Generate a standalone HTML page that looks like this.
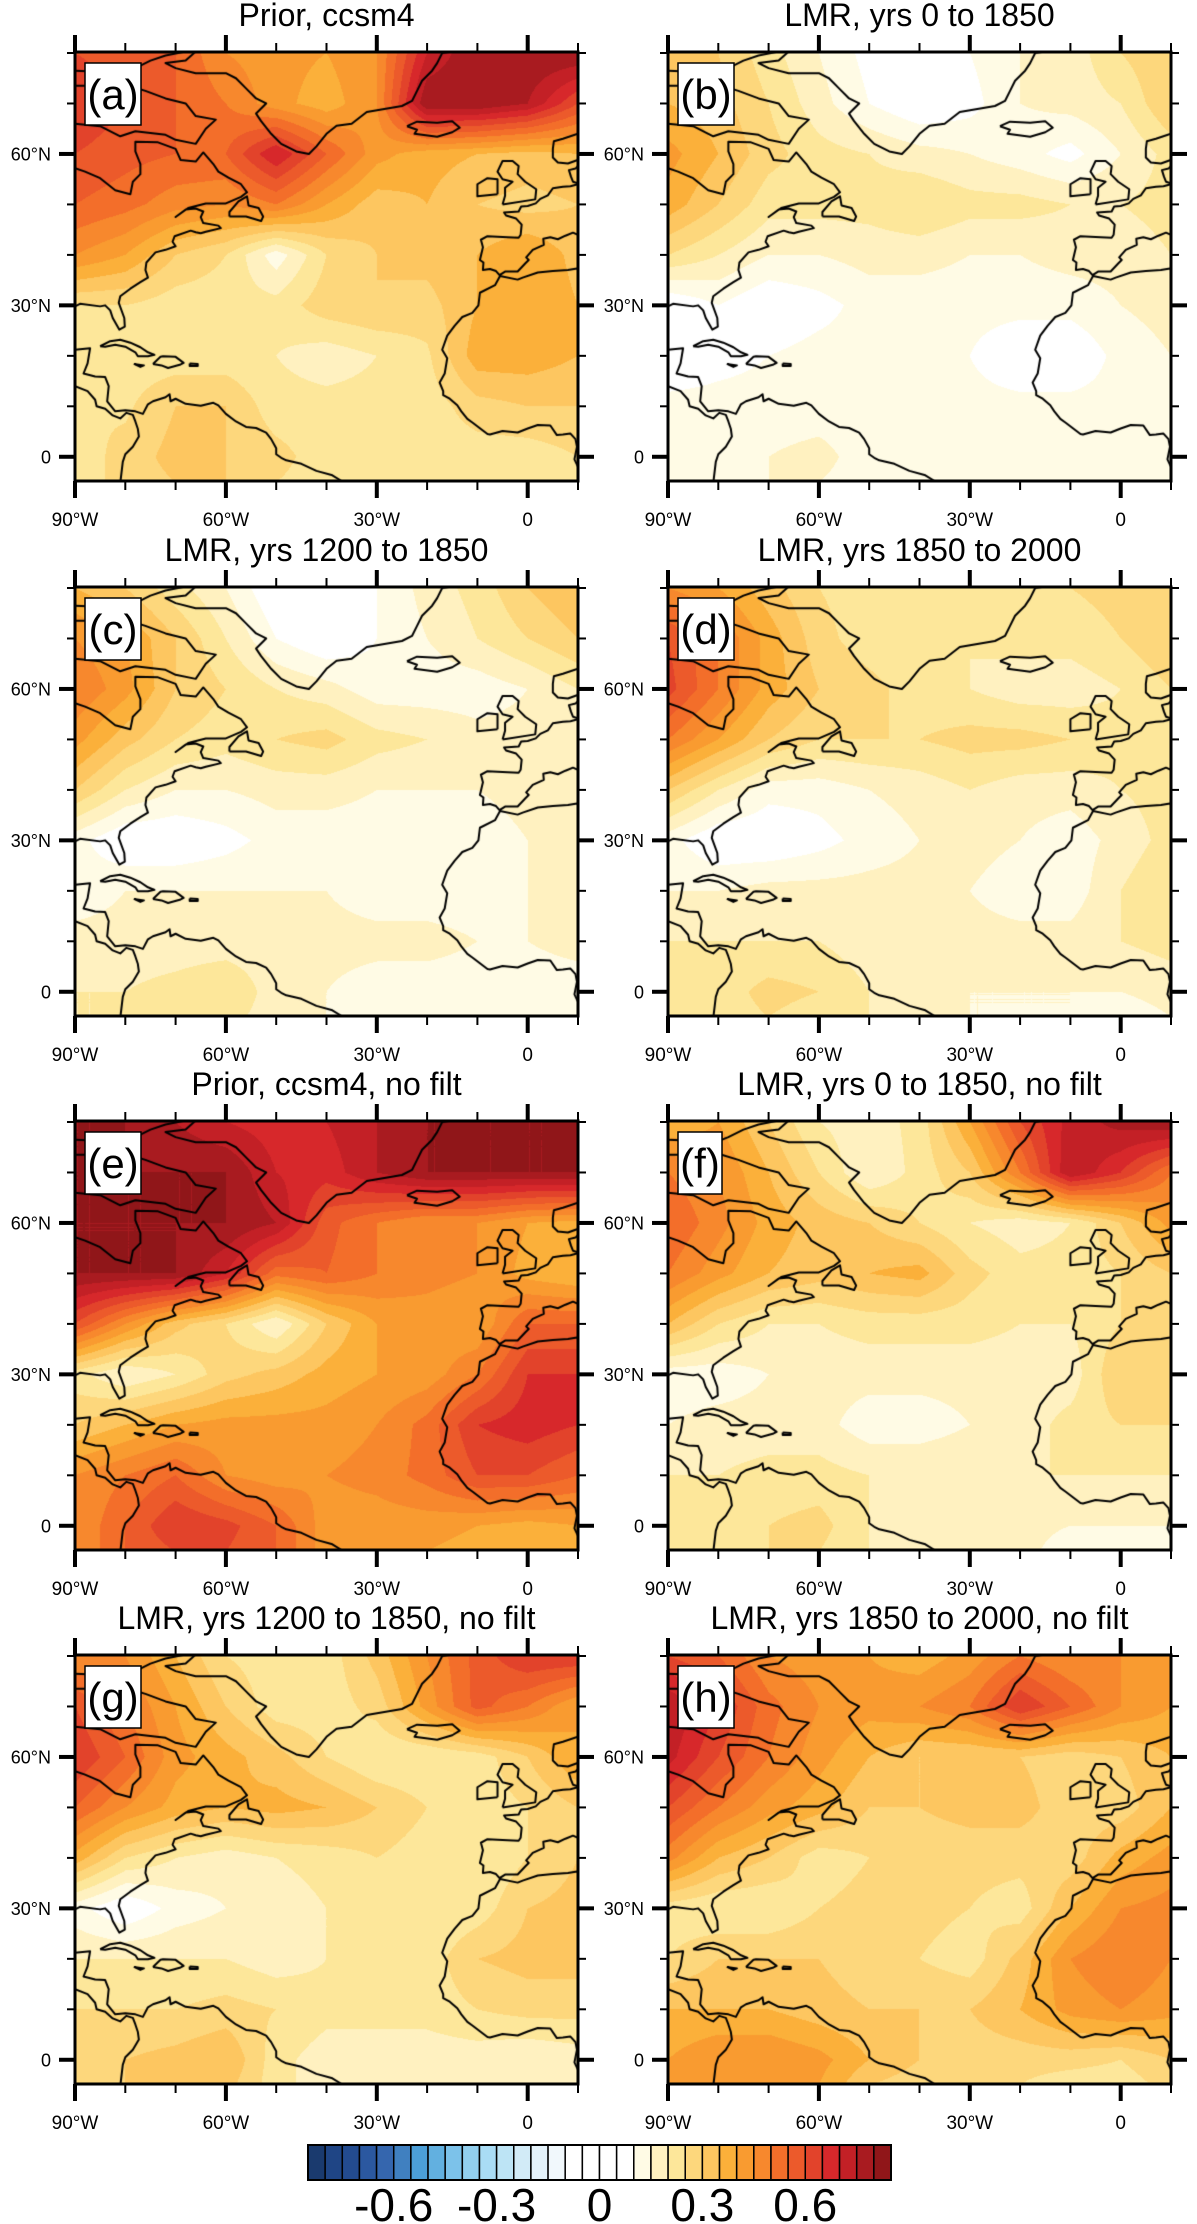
<!DOCTYPE html>
<html><head><meta charset="utf-8">
<style>
html,body{margin:0;padding:0;background:#fff;}
#root{position:relative;width:1197px;height:2224px;overflow:hidden;background:#fff;font-family:"Liberation Sans",Arial,sans-serif;}
canvas{position:absolute;}
svg{position:absolute;left:0;top:0;}
</style></head>
<body>
<div id="root">
<svg id="ov" width="1197" height="2224"></svg>
</div>
<script>
// ---------- data ----------
const LATS = [80,70,60,50,40,30,20,10,0,-5];
const LONS = [-90,-80,-70,-60,-50,-40,-30,-20,-10,0,10];
const levelColors = ["#1a3a6e","#1f4585","#234b8f","#2b58a0","#3566ae","#4080c0","#4c9fd8","#62b0e0","#7cc2ea","#92cfee","#a9dcf5","#bde4f5","#d2ebf7","#e4f2fa","#f1f8fc","#ffffff","#ffffff","#ffffff","#ffffff","#fffbe5","#fff1c0","#fde79a","#fdd77c","#fdc660","#fbb03a","#f99b30","#f7882d","#f36e2a","#ec5a2b","#e2432b","#d7282b","#c32026","#a91b20","#901619"];
const levelStep = 0.05;
const cbarTickValues = [-0.6,-0.3,0,0.3,0.6];
const cbarTickLabels = ["-0.6","-0.3","0","0.3","0.6"];
const latTickValues = [0,30,60];
const latTickLabels = ["0","30°N","60°N"];
const lonTickValues = [-90,-60,-30,0];
const lonTickLabels = ["90°W","60°W","30°W","0"];
const titles = ["Prior, ccsm4","LMR, yrs 0 to 1850","LMR, yrs 1200 to 1850","LMR, yrs 1850 to 2000","Prior, ccsm4, no filt","LMR, yrs 0 to 1850, no filt","LMR, yrs 1200 to 1850, no filt","LMR, yrs 1850 to 2000, no filt"];
const panelLetters = ["(a)","(b)","(c)","(d)","(e)","(f)","(g)","(h)"];

const panelA = [
[0.6,0.57,0.55,0.45,0.42,0.4,0.45,0.7,0.8,0.8,0.8],
[0.65,0.6,0.55,0.5,0.42,0.37,0.45,0.8,0.8,0.75,0.6],
[0.6,0.57,0.55,0.55,0.7,0.55,0.42,0.37,0.35,0.33,0.35],
[0.55,0.52,0.47,0.45,0.5,0.4,0.32,0.35,0.3,0.28,0.3],
[0.45,0.4,0.3,0.25,0.12,0.25,0.3,0.32,0.35,0.4,0.33],
[0.25,0.25,0.22,0.22,0.22,0.28,0.3,0.28,0.35,0.4,0.35],
[0.24,0.22,0.22,0.22,0.2,0.17,0.2,0.24,0.38,0.38,0.35],
[0.25,0.24,0.3,0.3,0.22,0.22,0.22,0.22,0.28,0.3,0.3],
[0.22,0.27,0.32,0.3,0.27,0.22,0.22,0.22,0.22,0.22,0.25],
[0.22,0.27,0.3,0.3,0.25,0.22,0.22,0.22,0.22,0.22,0.25]];
const panelB = [
[0.3,0.3,0.22,0.15,0.08,0.05,0.1,0.15,0.17,0.25,0.3],
[0.35,0.32,0.25,0.17,0.1,0.05,0.08,0.15,0.17,0.2,0.3],
[0.42,0.35,0.27,0.22,0.2,0.17,0.15,0.12,0.08,0.15,0.22],
[0.38,0.3,0.22,0.22,0.22,0.25,0.22,0.22,0.2,0.2,0.22],
[0.25,0.2,0.15,0.15,0.17,0.17,0.15,0.15,0.17,0.17,0.2],
[0.05,0.1,0.05,0.08,0.12,0.12,0.12,0.12,0.12,0.15,0.17],
[0.05,0.08,0.1,0.12,0.12,0.12,0.1,0.05,0.05,0.12,0.15],
[0.12,0.12,0.12,0.12,0.12,0.12,0.12,0.12,0.12,0.12,0.12],
[0.12,0.12,0.15,0.17,0.12,0.12,0.12,0.12,0.12,0.1,0.12],
[0.12,0.12,0.15,0.15,0.12,0.12,0.12,0.12,0.12,0.1,0.12]];
const panelC = [
[0.35,0.3,0.22,0.15,0.05,0.05,0.1,0.17,0.22,0.3,0.35],
[0.45,0.4,0.3,0.2,0.1,0.05,0.1,0.15,0.2,0.25,0.3],
[0.5,0.42,0.3,0.25,0.2,0.17,0.12,0.12,0.12,0.15,0.2],
[0.42,0.32,0.25,0.22,0.25,0.27,0.22,0.2,0.17,0.17,0.2],
[0.3,0.2,0.15,0.15,0.17,0.17,0.15,0.15,0.15,0.17,0.2],
[0.12,0.05,0.05,0.08,0.12,0.12,0.12,0.12,0.12,0.15,0.17],
[0.12,0.15,0.15,0.15,0.15,0.15,0.12,0.12,0.12,0.15,0.17],
[0.17,0.17,0.17,0.17,0.17,0.17,0.17,0.17,0.15,0.15,0.17],
[0.2,0.2,0.22,0.25,0.17,0.15,0.12,0.12,0.12,0.12,0.12],
[0.2,0.2,0.22,0.22,0.17,0.15,0.12,0.12,0.12,0.12,0.12]];
const panelD = [
[0.45,0.4,0.32,0.25,0.22,0.2,0.22,0.22,0.25,0.27,0.3],
[0.6,0.5,0.38,0.27,0.22,0.2,0.2,0.22,0.22,0.25,0.3],
[0.62,0.5,0.38,0.3,0.27,0.22,0.2,0.17,0.17,0.2,0.25],
[0.5,0.4,0.3,0.25,0.25,0.25,0.27,0.27,0.25,0.22,0.25],
[0.3,0.2,0.12,0.12,0.15,0.17,0.2,0.17,0.17,0.2,0.22],
[0.12,0.05,0.05,0.08,0.12,0.15,0.17,0.15,0.12,0.17,0.22],
[0.15,0.15,0.17,0.17,0.17,0.17,0.15,0.12,0.12,0.2,0.25],
[0.2,0.2,0.2,0.2,0.17,0.17,0.17,0.17,0.17,0.2,0.22],
[0.22,0.22,0.27,0.25,0.2,0.17,0.15,0.15,0.15,0.15,0.17],
[0.22,0.22,0.25,0.22,0.2,0.17,0.15,0.15,0.15,0.12,0.15]];
const panelE = [
[0.8,0.8,0.75,0.7,0.67,0.7,0.75,0.8,0.8,0.8,0.8],
[0.8,0.8,0.8,0.8,0.7,0.67,0.75,0.8,0.8,0.8,0.8],
[0.8,0.8,0.8,0.8,0.75,0.57,0.5,0.45,0.45,0.4,0.38],
[0.8,0.8,0.8,0.7,0.52,0.55,0.5,0.47,0.45,0.38,0.35],
[0.6,0.45,0.32,0.25,0.15,0.3,0.4,0.42,0.4,0.55,0.55],
[0.22,0.15,0.2,0.28,0.32,0.37,0.4,0.42,0.5,0.65,0.65],
[0.3,0.35,0.4,0.42,0.42,0.42,0.45,0.52,0.65,0.68,0.65],
[0.45,0.5,0.55,0.45,0.42,0.45,0.47,0.52,0.6,0.6,0.55],
[0.45,0.55,0.65,0.62,0.55,0.42,0.42,0.42,0.4,0.38,0.4],
[0.45,0.55,0.6,0.6,0.55,0.42,0.42,0.4,0.38,0.38,0.4]];
const panelF = [
[0.35,0.4,0.3,0.2,0.17,0.22,0.4,0.6,0.72,0.77,0.8],
[0.5,0.45,0.35,0.25,0.15,0.22,0.3,0.5,0.75,0.65,0.5],
[0.55,0.47,0.38,0.33,0.3,0.25,0.2,0.17,0.2,0.3,0.42],
[0.5,0.42,0.35,0.32,0.35,0.37,0.27,0.22,0.22,0.25,0.3],
[0.35,0.25,0.2,0.2,0.22,0.22,0.22,0.2,0.2,0.25,0.3],
[0.12,0.12,0.15,0.17,0.17,0.17,0.17,0.17,0.17,0.3,0.3],
[0.15,0.17,0.17,0.17,0.12,0.12,0.15,0.17,0.22,0.25,0.25],
[0.2,0.2,0.22,0.22,0.2,0.2,0.2,0.2,0.2,0.2,0.2],
[0.22,0.25,0.25,0.27,0.2,0.15,0.2,0.17,0.15,0.15,0.15],
[0.22,0.22,0.25,0.25,0.2,0.17,0.17,0.17,0.12,0.12,0.15]];
const panelG = [
[0.45,0.45,0.35,0.25,0.22,0.22,0.32,0.45,0.57,0.65,0.65],
[0.6,0.5,0.4,0.3,0.22,0.22,0.27,0.42,0.57,0.5,0.4],
[0.65,0.55,0.42,0.37,0.32,0.25,0.2,0.2,0.22,0.3,0.4],
[0.55,0.45,0.38,0.35,0.37,0.35,0.3,0.25,0.22,0.25,0.3],
[0.38,0.25,0.2,0.17,0.2,0.22,0.25,0.22,0.2,0.25,0.3],
[0.12,0.05,0.12,0.15,0.17,0.2,0.22,0.2,0.22,0.3,0.32],
[0.2,0.2,0.2,0.2,0.17,0.2,0.22,0.22,0.3,0.32,0.32],
[0.25,0.25,0.25,0.27,0.25,0.22,0.22,0.22,0.25,0.27,0.27],
[0.27,0.3,0.32,0.35,0.22,0.17,0.17,0.17,0.17,0.15,0.17],
[0.27,0.3,0.3,0.32,0.22,0.17,0.17,0.17,0.15,0.15,0.17]];
const panelH = [
[0.6,0.55,0.45,0.42,0.4,0.37,0.42,0.5,0.45,0.45,0.45],
[0.75,0.65,0.52,0.45,0.42,0.45,0.5,0.65,0.55,0.45,0.4],
[0.72,0.6,0.5,0.42,0.35,0.3,0.3,0.3,0.27,0.3,0.35],
[0.6,0.5,0.42,0.37,0.3,0.3,0.32,0.32,0.27,0.27,0.35],
[0.47,0.35,0.3,0.22,0.25,0.27,0.27,0.27,0.27,0.37,0.42],
[0.22,0.2,0.2,0.25,0.27,0.27,0.25,0.22,0.35,0.45,0.47],
[0.25,0.3,0.3,0.3,0.27,0.25,0.22,0.32,0.45,0.5,0.45],
[0.35,0.35,0.35,0.32,0.3,0.3,0.3,0.35,0.42,0.45,0.42],
[0.4,0.45,0.45,0.42,0.35,0.3,0.27,0.27,0.27,0.25,0.3],
[0.4,0.42,0.42,0.4,0.3,0.27,0.27,0.25,0.22,0.22,0.27]];
const panelFields = [panelA,panelB,panelC,panelD,panelE,panelF,panelG,panelH];

const coastNA = [[-90,29.8],[-89,30.3],[-85,29.8],[-84,30],[-83,29],[-82.5,27.5],[-81.2,25.2],[-80.1,25.8],[-80.2,27.5],[-81.3,30.5],[-81,31.8],[-79,33.3],[-77,34.6],[-75.5,35.5],[-76,37],[-75.8,38.5],[-74,40.5],[-72,41],[-70,41.7],[-70.6,42.6],[-70.2,43.7],[-67,44.8],[-66,44.5],[-65,44.3],[-64,44.6],[-61,45.3],[-61.5,45.8],[-64.5,46.3],[-65,47.5],[-64.5,48.6],[-66,49.2],[-68,49],[-70,47.5],[-67.5,49.3],[-64,50.2],[-60,50.2],[-57,51.5],[-55.8,52.4],[-57,54],[-59.5,55.3],[-61.5,56.5],[-62.5,58],[-64.5,60.3],[-66,58.5],[-69,58.8],[-70,61],[-73.5,62.3],[-78,62.4],[-78,60.5],[-77,58],[-77,56],[-78.5,54.5],[-79,52],[-82,52.8],[-85,55.2],[-88,56.5],[-90,57.2]];
const coastBaffin = [[-90,73.5],[-85,73.5],[-80,73.7],[-76,72.5],[-72,71],[-68,70],[-66,67.5],[-62,66.8],[-64,65],[-66,62],[-70,62.8],[-72,63.8],[-78,64.5],[-81,63.5],[-85,65.5],[-90,66]];
const coastEllesmere = [[-90,76.5],[-85,76.3],[-80,76.2],[-78,77],[-75,78.5],[-72,79.5],[-68,80.3]];
const coastGreenland = [[-66,80.3],[-68,78.5],[-72,78],[-70,77],[-66,76],[-60,76],[-58,75],[-56,73],[-54,71],[-52,70],[-54,68],[-53,66.5],[-51,64],[-49,62],[-46,60.5],[-43.5,60],[-42,61.5],[-40,64],[-38,65.6],[-35,66],[-32,68.3],[-25,69.5],[-23,70.5],[-22,72.5],[-21,74.5],[-19,76.5],[-18,78],[-17,80],[-15,80.3]];
const coastIceland = [[-24,65.5],[-22,66.4],[-18,66.2],[-15,66.5],[-13.5,65.2],[-15,64.3],[-18,63.4],[-21,63.8],[-22.5,64],[-22,64.8],[-24,65.5]];
const coastNewfoundland = [[-59.3,47.6],[-56,47.6],[-53,46.7],[-52.6,47.6],[-53.5,49.3],[-55.5,49.8],[-55.8,51.6],[-57.5,50.6],[-59.3,48.5],[-59.3,47.6]];
const coastUK = [[-5,50],[1.5,51],[1.7,53],[-0.5,54.5],[-2,56],[-1.8,57.6],[-3,58.6],[-5,58.6],[-6,56.5],[-5,55],[-3,54.5],[-4.5,53.3],[-4.5,51.7],[-5,50]];
const coastIreland = [[-6,52],[-10,51.6],[-10,54],[-8,55.2],[-6,55],[-6,52]];
const coastEurope = [[10,54],[8.5,53.6],[7,53.5],[5,53.2],[4,51.8],[2.5,51.1],[1.6,50.2],[0,49.7],[-1.3,49.6],[-1.8,48.6],[-4.7,48.4],[-4.3,47.8],[-2.3,47.2],[-1.2,46],[-1.4,44],[-1.8,43.4],[-4,43.5],[-8,43.7],[-9.3,43],[-8.9,41.5],[-9.5,39],[-8.8,38.5],[-8.9,37],[-7.5,37.2],[-6.3,36.8],[-5.6,36],[-4.5,36.7],[-2,36.7],[-0.5,38.3],[0.2,39],[-0.3,39.5],[1,41],[3.2,42],[3.1,43.2],[4.5,43.5],[6,43.1],[7.5,43.8],[9,44.4],[10,44]];
const coastDenmark = [[10,54.2],[9,54.5],[8.6,55.5],[8.2,56.8],[9.5,57.1],[10,57.6]];
const coastNorway = [[10,59.5],[10.5,59],[8,58.1],[6,58.3],[5,59.3],[5,61],[5.2,62.5],[7,63],[10,64]];
const coastAfrica = [[10,37.2],[9.8,37.3],[8,37],[5,36.8],[2,36.5],[-1,35.5],[-2,35.1],[-5.5,35.8],[-6.5,34],[-9.5,32.5],[-9.8,30],[-11,28.5],[-13,27.7],[-14.5,26],[-16,24],[-17,21.2],[-16,19.5],[-16.5,16.5],[-17.5,14.7],[-16.8,13],[-16.8,12.2],[-15.5,11.5],[-14,10.2],[-13.2,9],[-12,7.5],[-11,6.8],[-8,4.5],[-7.5,4.4],[-5,5.1],[-2,4.8],[0,5.6],[2,6.3],[4.5,6.2],[5.8,4.3],[7,4.4],[8.5,4.6],[9.5,3.5],[9.8,2],[9.5,0.5],[9.3,-0.5],[10,-2]];
const coastSA = [[-90,21.2],[-87,21.5],[-87.5,18.5],[-88.3,16.5],[-86,15.9],[-84,15.8],[-83.3,14],[-83.6,11],[-82,9],[-80,9.2],[-78,9],[-76.5,8.5],[-75.5,10.4],[-74.5,11],[-72,11.8],[-71.2,12.4],[-71,11],[-70,11.5],[-68,10.5],[-65,10.1],[-62.5,10.7],[-61.5,10.2],[-60,8.5],[-58,7],[-56,5.9],[-54,5.7],[-52,4.8],[-51,3.5],[-50,1.7],[-50,0.5],[-49,-0.2],[-48,-0.7],[-45,-1.4],[-42,-2.8],[-39,-3.6],[-37,-4.8],[-36,-5.2]];
const coastPacific = [[-90,14],[-87.5,13],[-86,11.3],[-85.7,10],[-84,9.5],[-82.5,8.2],[-81,7.6],[-79.8,8.7],[-78.5,8.3],[-78,7],[-77.5,5.5],[-77.3,4],[-78.5,2],[-80,0.5],[-80.5,-1],[-81,-5.2]];
const coastCuba = [[-85,21.9],[-83,22.9],[-81,23.2],[-79,22.6],[-77,21.7],[-75.5,20.7],[-74.2,20.2],[-75.5,19.9],[-77.5,19.9],[-78,20.7],[-80,21.8],[-82,22.2],[-84,21.8],[-85,21.9]];
const coastHispaniola = [[-74.5,18.4],[-73,19.8],[-72.5,19.9],[-70,19.8],[-68.4,18.6],[-69,18.3],[-71.5,17.6],[-72.8,18.1],[-74.5,18.4]];
const coastJamaica = [[-78.3,18.4],[-76.3,18.1],[-77,17.8],[-78.3,18.4]];
const coastPR = [[-67.2,18.5],[-65.6,18.4],[-65.6,18],[-67.2,18],[-67.2,18.5]];
const coastlines = [coastNA,coastBaffin,coastEllesmere,coastGreenland,coastIceland,coastNewfoundland,coastUK,coastIreland,coastEurope,coastDenmark,coastNorway,coastAfrica,coastSA,coastPacific,coastCuba,coastHispaniola,coastJamaica,coastPR];

// ---------- layout ----------
const colLefts = [75,668];
const rowTops = [52,587,1121,1655];
const PW = 503, PH = 429;
const LON0=-90, LON1=10, LAT0=-4.8, LAT1=80.2;
const cbar = {x:308, y:2145, w:583, h:35};

function xOf(lon){ return (lon-LON0)/(LON1-LON0)*PW; }
function yOf(lat){ return (LAT1-lat)/(LAT1-LAT0)*PH; }
function hexRgb(h){ return [parseInt(h.substr(1,2),16),parseInt(h.substr(3,2),16),parseInt(h.substr(5,2),16)]; }
const rgbLevels = levelColors.map(hexRgb);
function levelIndex(v){ let i=Math.floor(v/levelStep)+17; return Math.max(0,Math.min(levelColors.length-1,i)); }

function sample(grid, lon, lat){
  let la = Math.max(-5, Math.min(80, lat));
  let r=0; while(r<LATS.length-2 && la < LATS[r+1]) r++;
  const t = (LATS[r]-la)/(LATS[r]-LATS[r+1]);
  let c = Math.floor((lon-LONS[0])/10); c=Math.max(0,Math.min(LONS.length-2,c));
  const s = (lon-LONS[c])/10;
  const a=grid[r][c], b=grid[r][c+1], d=grid[r+1][c], e=grid[r+1][c+1];
  return (a*(1-s)+b*s)*(1-t)+(d*(1-s)+e*s)*t;
}

const root = document.getElementById('root');
const ov = document.getElementById('ov');
let svg = '';

panelFields.forEach((grid, k)=>{
  const left = colLefts[k%2], top = rowTops[Math.floor(k/2)];
  const cv = document.createElement('canvas');
  
  
  cv.width=PW; cv.height=PH; cv.style.left=left+'px'; cv.style.top=top+'px';
  root.insertBefore(cv, ov);
  const ctx = cv.getContext('2d');
  const img = ctx.createImageData(PW,PH);
  for(let py=0;py<PH;py++){
    const lat = LAT1-(py+0.5)/PH*(LAT1-LAT0);
    for(let px=0;px<PW;px++){
      const lon = LON0+(px+0.5)/PW*(LON1-LON0);
      const col = rgbLevels[levelIndex(sample(grid,lon,lat))];
      const o=(py*PW+px)*4; img.data[o]=col[0]; img.data[o+1]=col[1]; img.data[o+2]=col[2]; img.data[o+3]=255;
    }
  }
  ctx.putImageData(img,0,0);
  ctx.strokeStyle='#000'; ctx.lineWidth=2; ctx.lineJoin='round';
  coastlines.forEach(line=>{
    ctx.beginPath();
    line.forEach((p,i)=>{ const X=xOf(p[0]),Y=yOf(p[1]); if(i) ctx.lineTo(X,Y); else ctx.moveTo(X,Y); });
    ctx.stroke();
  });

  // frame, ticks, labels
  svg += `<g>`;
  svg += `<rect x="${left}" y="${top}" width="${PW}" height="${PH}" fill="none" stroke="#000" stroke-width="3"/>`;
  for(let lat=0;lat<=80;lat+=10){
    const y = top+yOf(lat); const major = latTickValues.indexOf(lat)>=0;
    const L = major?16:8, w = major?4:2;
    svg += `<line x1="${left-L}" y1="${y}" x2="${left}" y2="${y}" stroke="#000" stroke-width="${w}"/>`;
    svg += `<line x1="${left+PW}" y1="${y}" x2="${left+PW+L}" y2="${y}" stroke="#000" stroke-width="${w}"/>`;
  }
  latTickValues.forEach((v,i)=>{
    svg += `<text x="${left-24}" y="${top+yOf(v)+6.5}" text-anchor="end" font-size="18" font-family="Liberation Sans, sans-serif">${latTickLabels[i]}</text>`;
  });
  for(let lon=-90;lon<=10;lon+=10){
    const x = left+xOf(lon); const major = lonTickValues.indexOf(lon)>=0;
    const L = major?17:9, w = major?4:2;
    svg += `<line x1="${x}" y1="${top+PH}" x2="${x}" y2="${top+PH+L}" stroke="#000" stroke-width="${w}"/>`;
    svg += `<line x1="${x}" y1="${top-L}" x2="${x}" y2="${top}" stroke="#000" stroke-width="${w}"/>`;
  }
  lonTickValues.forEach((v,i)=>{
    svg += `<text x="${left+xOf(v)}" y="${top+PH+45}" text-anchor="middle" font-size="19" font-family="Liberation Sans, sans-serif">${lonTickLabels[i]}</text>`;
  });
  svg += `<text x="${left+PW/2}" y="${top-26}" text-anchor="middle" font-size="32" font-family="Liberation Sans, sans-serif">${titles[k]}</text>`;
  const lw = panelLetters[k]==="(f)"?44:56;
  svg += `<rect x="${left+10}" y="${top+11}" width="${lw}" height="62" fill="#fff" stroke="#000" stroke-width="1.5"/>`;
  svg += `<text x="${left+10+lw/2}" y="${top+57}" text-anchor="middle" font-size="42" font-family="Liberation Sans, sans-serif">${panelLetters[k]}</text>`;
  svg += `</g>`;
});

// colorbar
const bw = cbar.w/levelColors.length;
svg += `<g>`;
levelColors.forEach((c,i)=>{
  svg += `<rect x="${cbar.x+i*bw}" y="${cbar.y}" width="${bw}" height="${cbar.h}" fill="${c}" stroke="#000" stroke-width="1.5"/>`;
});
svg += `<rect x="${cbar.x}" y="${cbar.y}" width="${cbar.w}" height="${cbar.h}" fill="none" stroke="#000" stroke-width="2"/>`;
cbarTickValues.forEach((v,i)=>{
  const x = cbar.x + (v/levelStep+17)*bw;
  svg += `<text x="${x}" y="2221" text-anchor="middle" font-size="46" font-family="Liberation Sans, sans-serif">${cbarTickLabels[i]}</text>`;
});
svg += `</g>`;
ov.innerHTML = svg;
</script>
</body></html>
